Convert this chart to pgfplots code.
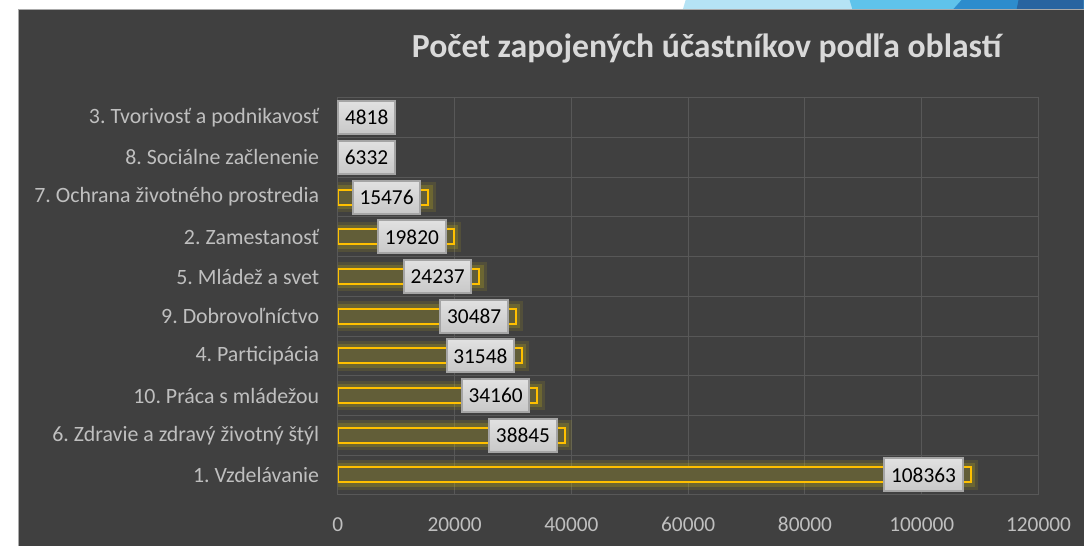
\documentclass[border=0pt]{standalone}
\usepackage{pgfplots}
\pgfplotsset{compat=1.18}
\usepackage{fontspec}
\setmainfont{Carlito}
\frenchspacing
\definecolor{bg}{RGB}{64,64,64}
\definecolor{gridc}{RGB}{88,88,88}
\definecolor{gold}{RGB}{255,192,0}
\definecolor{lbl}{RGB}{191,191,191}
\definecolor{ttl}{RGB}{217,217,217}
\definecolor{barin}{RGB}{98,94,56}
\definecolor{glow}{RGB}{215,195,20}
\definecolor{blA}{RGB}{181,227,245}
\definecolor{blB}{RGB}{95,195,235}
\definecolor{blC}{RGB}{45,140,205}
\definecolor{blD}{RGB}{40,100,160}
\definecolor{frame}{RGB}{170,170,170}
\definecolor{boxtop}{RGB}{225,225,225}
\definecolor{boxbot}{RGB}{200,200,200}
\definecolor{boxdraw}{RGB}{165,165,165}
\begin{document}
\begin{tikzpicture}[x=0.75pt,y=0.75pt]
\fill[white] (0,0) rectangle (1084,546);
\fill[blA] (683,536) -- (686,546) -- (1084,546) -- (1084,536) -- cycle;
\fill[blB] (853,536) -- (850,546) -- (1084,546) -- (1084,536) -- cycle;
\fill[blC] (953,536) -- (962,546) -- (1084,546) -- (1084,536) -- cycle;
\fill[blD] (1017,536) -- (1019,546) -- (1084,546) -- (1084,536) -- cycle;
\fill[bg] (19,0) rectangle (1084,536);
\draw[frame, line width=0.75pt] (19,0) -- (19,536) -- (1084,536);
\node[font=\bfseries\fontsize{25.3}{30}\selectfont, text=ttl] at (707,497) {Počet zapojených účastníkov podľa oblastí};
\begin{axis}[
  at={(253.5pt,38.25pt)}, anchor=south west, scale only axis,
  width=525.75pt, height=297.75pt,
  xbar, bar width=11.25pt, bar shift=0pt,
  xmin=0, xmax=120000, ymin=-0.5, ymax=9.5,
  xtick={0,20000,...,120000},
  ytick={0,...,9},
  yticklabels={1. Vzdelávanie,6. Zdravie a zdravý životný štýl,10. Práca s mládežou,4. Participácia,9. Dobrovoľníctvo,5. Mládež a svet,2. Zamestanosť,7. Ochrana životného prostredia,8. Sociálne začlenenie,3. Tvorivosť a podnikavosť},
  minor ytick={-0.5,0.5,...,9.5},
  yminorgrids, xmajorgrids,
  grid style={gridc, line width=0.75pt},
  minor grid style={gridc, line width=0.75pt},
  axis line style={gridc, line width=0.75pt},
  major tick length=0pt, minor tick length=0pt,
  ticklabel style={font=\fontsize{16}{19}\selectfont, text=lbl},
  yticklabel style={font=\fontsize{16.4}{19}\selectfont, xshift=-10.5pt},
  xticklabel style={yshift=-13.5pt, text height=10.5pt, text depth=0pt},
  scaled x ticks=false,
  /pgf/number format/fixed,
  /pgf/number format/precision=0,
  /pgf/number format/1000 sep={},
  /pgf/number format/assume math mode=true,
  point meta=x,
  nodes near coords={\pgfmathprintnumber[fixed,precision=0,1000 sep={}]{\pgfplotspointmeta}},
  every node near coord/.append style={anchor=east, xshift=-5.25pt,
     top color=boxtop, bottom color=boxbot,
     draw=boxdraw, text=black, font=\fontsize{16}{19}\selectfont,
     minimum height=24.75pt, inner xsep=5pt, inner ysep=2pt},
]
\addplot[draw=glow, draw opacity=0.12, line width=11pt, fill=none, nodes near coords={}, every node near coord/.style={opacity=0}] coordinates {
(108363,0) (38845,1) (34160,2) (31548,3) (30487,4) (24237,5) (19820,6) (15476,7) (6332,8) (4818,9)};
\addplot[draw=glow, draw opacity=0.2, line width=6.5pt, fill=none, nodes near coords={}, every node near coord/.style={opacity=0}] coordinates {
(108363,0) (38845,1) (34160,2) (31548,3) (30487,4) (24237,5) (19820,6) (15476,7) (6332,8) (4818,9)};
\addplot[draw=gold, line width=1.5pt, fill=barin] coordinates {
(108363,0) (38845,1) (34160,2) (31548,3) (30487,4) (24237,5) (19820,6) (15476,7)};
\addplot[draw=gold, line width=1.5pt, fill=barin, every node near coord/.append style={xshift=21pt}] coordinates {(6332,8)};
\addplot[draw=gold, line width=1.5pt, fill=barin, every node near coord/.append style={xshift=27.75pt}] coordinates {(4818,9)};
\end{axis}
\end{tikzpicture}
\end{document}
